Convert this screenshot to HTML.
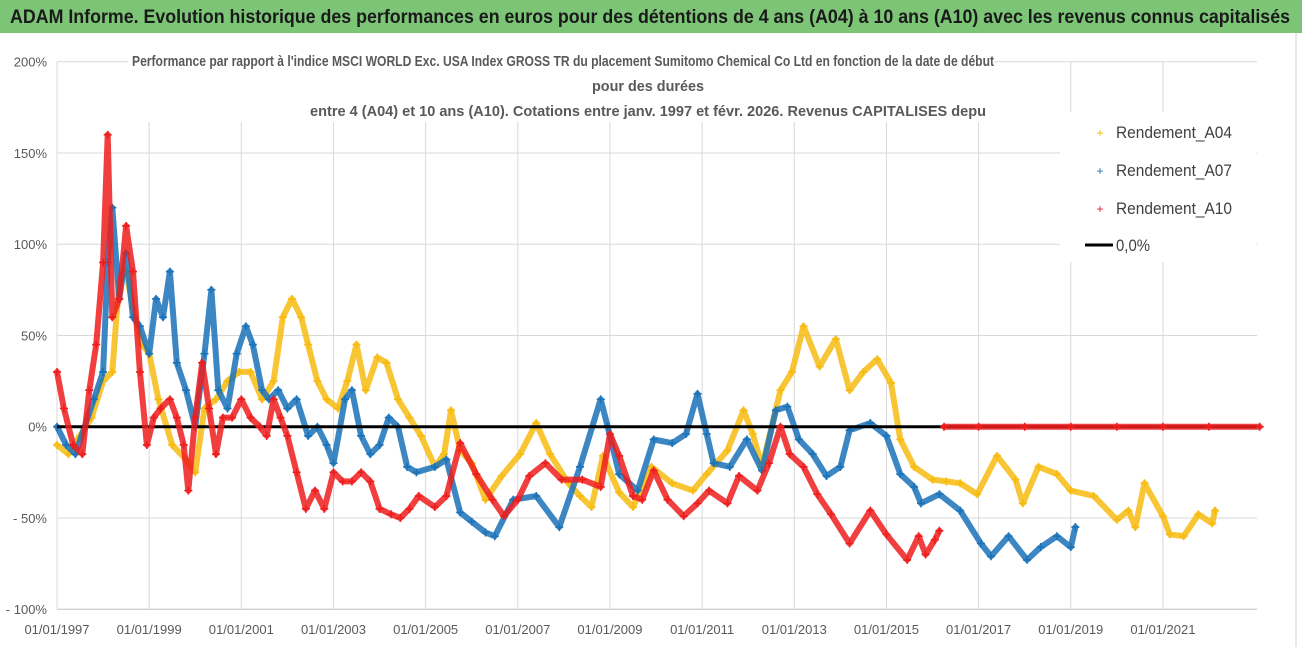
<!DOCTYPE html>
<html><head><meta charset="utf-8"><style>
html,body{margin:0;padding:0;background:#fff;}
svg{display:block;font-family:"Liberation Sans Narrow","Liberation Sans",sans-serif;}
</style></head><body>
<svg id="chart" width="1302" height="647" viewBox="0 0 1302 647">
<rect x="0" y="0" width="1302" height="647" fill="#fff"/>
<rect x="0" y="0" width="1302" height="33" fill="#7cc576"/>
<text x="10" y="23" font-size="19" font-weight="bold" fill="#1a1a1a" textLength="1280" lengthAdjust="spacingAndGlyphs">ADAM Informe. Evolution historique des performances en euros pour des détentions de 4 ans (A04) à 10 ans (A10) avec les revenus connus capitalisés</text>
<line x1="1296" y1="33" x2="1296" y2="647" stroke="#d0d0d0"/>
<g id="grid"></g>
<g id="yticks"></g>
<g id="xticks"></g>
<g id="series"></g>
<rect x="128" y="46" width="866" height="76" fill="#fff"/>
<g font-size="15" font-weight="bold" fill="#595959" text-anchor="middle">
<text x="563" y="66" textLength="862" lengthAdjust="spacingAndGlyphs">Performance par rapport à l'indice MSCI WORLD Exc. USA Index GROSS TR  du placement Sumitomo Chemical Co Ltd en fonction de la date de début</text>
<text x="648" y="91" textLength="112" lengthAdjust="spacingAndGlyphs">pour des durées</text>
<text x="648" y="116" textLength="676" lengthAdjust="spacingAndGlyphs">entre 4 (A04) et 10 ans (A10). Cotations entre janv. 1997 et févr. 2026. Revenus CAPITALISES depu</text>
</g>
<g>
<rect x="1060" y="112" width="196" height="150" fill="#fff"/>
<g><text x="1100" y="137" font-size="12" fill="#f5b800" text-anchor="middle">+</text><text x="1116" y="138" font-size="17" fill="#404040" textLength="116" lengthAdjust="spacingAndGlyphs">Rendement_A04</text></g>
<g><text x="1100" y="175" font-size="12" fill="#1f77b4" text-anchor="middle">+</text><text x="1116" y="176" font-size="17" fill="#404040" textLength="116" lengthAdjust="spacingAndGlyphs">Rendement_A07</text></g>
<g><text x="1100" y="213" font-size="12" fill="#e8161b" text-anchor="middle">+</text><text x="1116" y="214" font-size="17" fill="#404040" textLength="116" lengthAdjust="spacingAndGlyphs">Rendement_A10</text></g>
<g><line x1="1085" y1="245" x2="1113" y2="245" stroke="#000" stroke-width="3"/><text x="1116" y="251" font-size="17" fill="#404040" textLength="34" lengthAdjust="spacingAndGlyphs">0,0%</text></g>
</g>
</svg>
<script>
const yTickValues=[200,150,100,50,0,-50,-100];
const yTickLabels=["200%","150%","100%","50%","0%","- 50%","- 100%"];
const xTickYears=[1997,1999,2001,2003,2005,2007,2009,2011,2013,2015,2017,2019,2021];
const xTickLabels=["01/01/1997","01/01/1999","01/01/2001","01/01/2003","01/01/2005","01/01/2007","01/01/2009","01/01/2011","01/01/2013","01/01/2015","01/01/2017","01/01/2019","01/01/2021"];

const a04Years=[1997.0,1997.25,1997.5,1997.75,1998.0,1998.2,1998.35,1998.5,1998.65,1998.85,1999.0,1999.2,1999.5,1999.8,2000.0,2000.2,2000.45,2000.7,2000.95,2001.2,2001.45,2001.7,2001.9,2002.1,2002.3,2002.45,2002.65,2002.85,2003.1,2003.3,2003.5,2003.7,2003.95,2004.15,2004.4,2004.65,2004.9,2005.2,2005.4,2005.55,2005.75,2006.0,2006.3,2006.65,2007.05,2007.4,2007.7,2008.1,2008.35,2008.6,2008.85,2009.2,2009.5,2009.9,2010.35,2010.8,2011.1,2011.55,2011.9,2012.1,2012.3,2012.7,2012.95,2013.2,2013.55,2013.9,2014.2,2014.5,2014.8,2015.1,2015.3,2015.6,2016.0,2016.3,2016.6,2016.97,2017.4,2017.8,2017.96,2018.3,2018.7,2019.0,2019.5,2020.0,2020.25,2020.4,2020.6,2021.0,2021.15,2021.45,2021.77,2022.07,2022.13];
const a04Values=[-10,-15,-5,5,25,30,80,85,65,45,40,15,-10,-18,-25,10,15,25,30,30,15,25,60,70,60,45,25,15,10,25,45,20,38,35,15,5,-5,-22,-15,9,-13,-20,-40,-27,-15,2,-15,-31,-38,-44,-16,-36,-44,-22,-31,-35,-26,-13,9,-4,-22,20,30,55,33,48,20,30,37,24,-7,-22,-29,-30,-31,-37,-16,-29,-42,-22,-26,-35,-38,-51,-46,-55,-31,-49,-59,-60,-48,-53,-46];

const a07Years=[1997.0,1997.2,1997.4,1997.6,1997.8,1998.0,1998.1,1998.2,1998.35,1998.5,1998.65,1998.8,1999.0,1999.15,1999.3,1999.45,1999.6,1999.8,2000.0,2000.2,2000.35,2000.5,2000.7,2000.9,2001.1,2001.25,2001.45,2001.6,2001.8,2002.0,2002.2,2002.45,2002.65,2002.85,2003.0,2003.25,2003.4,2003.6,2003.8,2004.0,2004.2,2004.4,2004.6,2004.8,2005.2,2005.45,2005.75,2006.0,2006.3,2006.5,2006.9,2007.4,2007.9,2008.35,2008.8,2008.95,2009.2,2009.6,2009.95,2010.35,2010.65,2010.9,2011.1,2011.25,2011.6,2011.97,2012.3,2012.6,2012.85,2013.1,2013.4,2013.7,2014.0,2014.2,2014.65,2015.0,2015.3,2015.6,2015.75,2016.15,2016.6,2017.05,2017.27,2017.65,2018.05,2018.35,2018.7,2019.0,2019.1];
const a07Values=[0,-10,-15,0,15,30,90,120,70,95,60,55,40,70,60,85,35,20,0,40,75,20,10,40,55,45,20,15,20,10,15,-5,0,-10,-20,15,20,-5,-15,-10,5,0,-22,-25,-22,-18,-47,-52,-58,-60,-40,-38,-55,-22,15,0,-26,-35,-7,-9,-4,18,-4,-20,-22,-7,-24,9,11,-7,-15,-27,-22,-2,2,-5,-26,-33,-42,-37,-46,-64,-71,-60,-73,-66,-60,-66,-55];

const a10Years=[1997.0,1997.15,1997.35,1997.55,1997.7,1997.85,1998.0,1998.1,1998.2,1998.35,1998.5,1998.65,1998.8,1998.95,1999.1,1999.25,1999.45,1999.6,1999.75,1999.85,2000.0,2000.15,2000.3,2000.45,2000.6,2000.8,2001.0,2001.2,2001.4,2001.55,2001.7,2001.85,2002.0,2002.2,2002.4,2002.6,2002.8,2003.0,2003.2,2003.4,2003.6,2003.8,2004.0,2004.25,2004.45,2004.65,2004.85,2005.2,2005.45,2005.75,2006.1,2006.45,2006.7,2007.0,2007.25,2007.6,2007.95,2008.4,2008.8,2009.0,2009.2,2009.5,2009.7,2009.95,2010.25,2010.6,2010.9,2011.15,2011.55,2011.8,2012.2,2012.45,2012.7,2012.9,2013.2,2013.5,2013.8,2014.2,2014.65,2015.0,2015.45,2015.7,2015.85,2016.05,2016.15];
const a10Values=[30,10,-10,-15,20,45,90,160,60,70,110,85,30,-10,5,10,15,5,-10,-35,5,35,10,-15,5,5,15,5,0,-5,15,5,-5,-25,-45,-35,-45,-25,-30,-30,-25,-30,-45,-48,-50,-45,-38,-44,-38,-9,-26,-40,-49,-40,-27,-20,-29,-29,-33,-4,-16,-38,-40,-24,-40,-49,-42,-35,-42,-27,-35,-20,0,-15,-22,-37,-48,-64,-46,-59,-73,-60,-70,-62,-57];
const a10TailYears=[2016.25,2017.0,2018.0,2019.0,2020.0,2021.0,2022.0,2023.1];
const a10TailValues=[0,0,0,0,0,0,0,0];

const NS="http://www.w3.org/2000/svg";
const X0=57,X1=1257,Y0=426.7,PX_PER_PCT=1.825,YEAR0=1997,PX_PER_YEAR=46.08;
function xScale(yr){return X0+(yr-YEAR0)*PX_PER_YEAR;}
function yScale(v){return Y0-v*PX_PER_PCT;}
function mk(tag,attrs,parent){const e=document.createElementNS(NS,tag);for(const k in attrs)e.setAttribute(k,attrs[k]);parent.appendChild(e);return e;}

const grid=document.getElementById('grid');
yTickValues.forEach((v,i)=>{
  const l=mk('line',{x1:X0,x2:X1,y1:yScale(v),y2:yScale(v),stroke:v===-100?'#bfbfbf':'#d9d9d9','stroke-width':1},grid);
  
  
  const t=mk('text',{x:47,y:yScale(v)+5,'font-size':13,fill:'#595959','text-anchor':'end'},document.getElementById('yticks'));
  t.textContent=yTickLabels[i];
  
  
});
xTickYears.forEach((yr,i)=>{
  const l=mk('line',{x1:xScale(yr),x2:xScale(yr),y1:yScale(200),y2:yScale(-100),stroke:'#d9d9d9','stroke-width':1},grid);
  
  
  const t=mk('text',{x:xScale(yr),y:634,'font-size':13,fill:'#595959','text-anchor':'middle'},document.getElementById('xticks'));
  t.textContent=xTickLabels[i];
  
  
});

const series=document.getElementById('series');
function drawSeries(years,vals,color,name){
  const g=mk('g',{},series);
  
  
  const pts=years.map((yr,i)=>xScale(yr).toFixed(1)+','+yScale(vals[i]).toFixed(1)).join(' ');
  const pl=mk('polyline',{points:pts,fill:'none',stroke:color,'stroke-width':6,'stroke-linejoin':'round','stroke-linecap':'round','stroke-opacity':0.85},g);
  
  
  years.forEach((yr,i)=>{
    const x=xScale(yr),y=yScale(vals[i]);
    const p=mk('path',{d:`M${x-4},${y}H${x+4}M${x},${y-4}V${y+4}`,stroke:color,'stroke-width':1.6},g);
    
    
  });
}
drawSeries(a04Years,a04Values,'#f7bb10','series-a04');
drawSeries(a07Years,a07Values,'#1a72b8','series-a07');
const zl=mk('line',{x1:X0,x2:X1,y1:yScale(0),y2:yScale(0),stroke:'#000','stroke-width':3},series);


drawSeries(a10Years,a10Values,'#ee1c1c','series-a10');
drawSeries(a10TailYears,a10TailValues,'#ee1c1c','series-a10-tail');
</script>
</body></html>
